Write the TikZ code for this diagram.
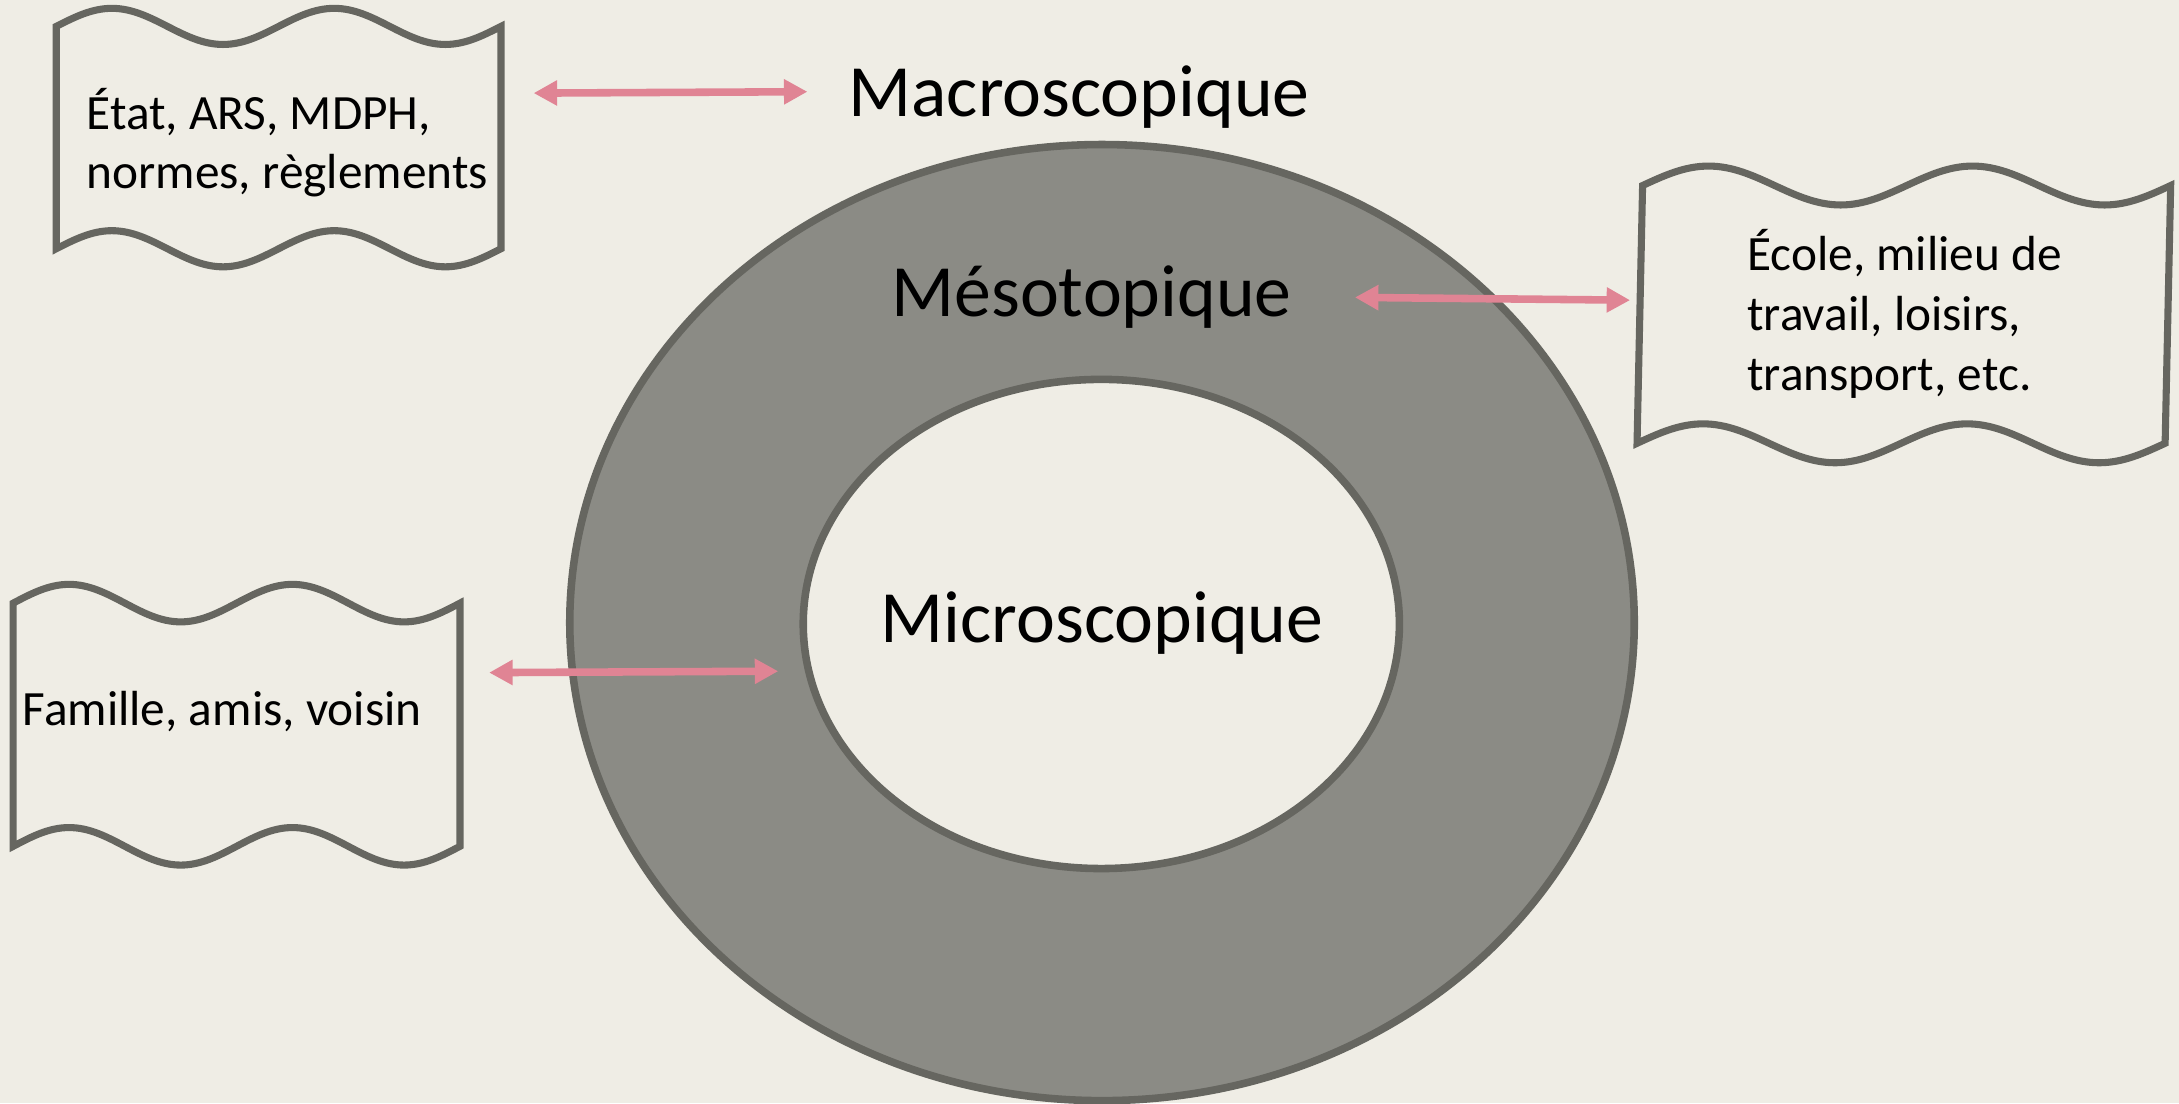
\documentclass[tikz,border=0pt]{standalone}
\usepackage{fontspec}
\setmainfont{Carlito}
\usetikzlibrary{arrows.meta}
\definecolor{bgc}{HTML}{EFEDE5}
\definecolor{ringc}{HTML}{8B8B85}
\definecolor{edgec}{HTML}{666660}
\definecolor{arrc}{HTML}{E08494}
\newcommand{\wavebox}[6]{%
  \pgfmathsetmacro{\wq}{(#2-#1)/8}%
  \draw[boxline] (#1,#3) sin ++(\wq,-#5) cos ++(\wq,#5) sin ++(\wq,#5) cos ++(\wq,-#5)
    sin ++(\wq,-#5) cos ++(\wq,#5) sin ++(\wq,#5) cos ++(\wq,-#5)
    -- ++(-#6,#4-#3)
    sin ++(-\wq,#5) cos ++(-\wq,-#5) sin ++(-\wq,-#5) cos ++(-\wq,#5)
    sin ++(-\wq,#5) cos ++(-\wq,-#5) sin ++(-\wq,-#5) cos ++(-\wq,#5) -- cycle;
}
\tikzset{
  boxline/.style={draw=edgec, line width=2.9pt, fill=bgc, line join=miter},
  ringline/.style={draw=edgec, line width=3.1pt},
  bigtxt/.style={font=\fontsize{30.2}{36}\selectfont, inner sep=0pt, anchor=base},
  smalltxt/.style={font=\fontsize{20.2}{24.5}\selectfont, inner sep=0pt, align=left, anchor=base west},
  link/.style={draw=arrc, line width=3.1pt, {Triangle[length=9.6pt,width=9.8pt]}-{Triangle[length=9.6pt,width=9.8pt]}},
}
\begin{document}
\begin{tikzpicture}[x=0.02cm, y=-0.02cm]
\fill[bgc] (0,0) rectangle (1568,794);
\useasboundingbox (0,0) rectangle (1568,794);
% ring
\draw[ringline, fill=ringc] (793,448) ellipse [x radius=383, y radius=344];
\draw[ringline, fill=bgc] (792.5,449) ellipse [x radius=214.5, y radius=176];
% wave boxes
\wavebox{40.5}{360.5}{19}{179}{13}{0}
\wavebox{1182}{1562}{133.5}{319}{14}{4}
\wavebox{9.5}{331}{434}{609}{13.5}{0}
% labels
\node[bigtxt] (macro) at (776.5,84) {Macroscopique};
\node[bigtxt] (meso) at (785.5,228) {Mésotopique};
\node[bigtxt] (micro) at (793,462) {Microscopique};
\node[smalltxt] (etat) at (62,136) {État, ARS, MDPH,\\normes, règlements};
\node[smalltxt] (ecole) at (1257,281) {École, milieu de\\travail, loisirs,\\transport, etc.};
\node[smalltxt] (famille) at (16,522) {Famille, amis, voisin};
% connectors
\coordinate (a1s) at (384,67);
\coordinate (a1e) at (581,66);
\coordinate (a2s) at (975,214);
\coordinate (a2e) at (1173,216);
\coordinate (a3s) at (352,484);
\coordinate (a3e) at (560,483);
\draw[link] (a1s) -- (a1e);
\draw[link] (a2s) -- (a2e);
\draw[link] (a3s) -- (a3e);
\end{tikzpicture}
\end{document}
